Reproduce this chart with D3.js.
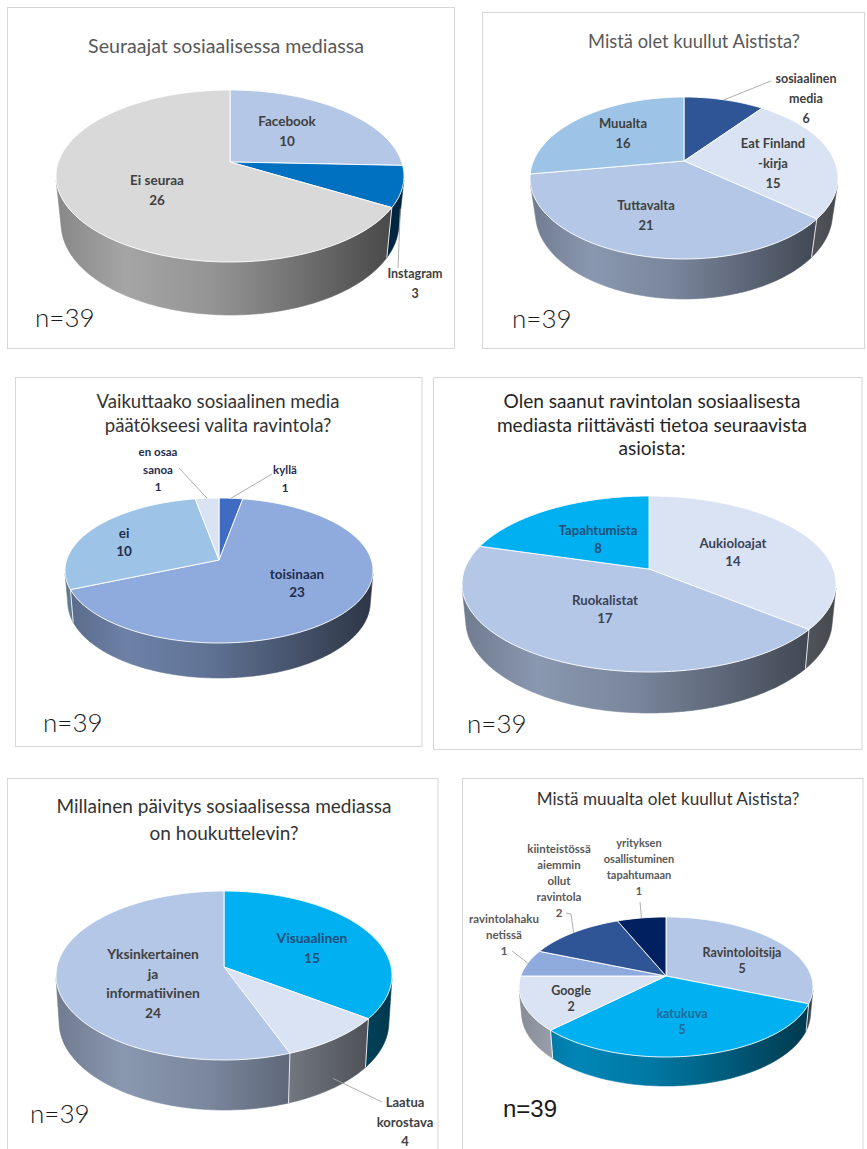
<!DOCTYPE html>
<html><head><meta charset="utf-8">
<script src="https://cdn.jsdelivr.net/npm/d3@7"></script>
<style>body{margin:0;background:#fff}svg{display:block}</style>
</head><body>
<svg id="c" width="867" height="1149"></svg>
<script>
// ---------- DATA ----------
const p1Title = ["Seuraajat sosiaalisessa mediassa"];
const p1Cats = ["Facebook", "Instagram", "Ei seuraa"];
const p1Vals = [10, 3, 26];

const p2Title = ["Mistä olet kuullut Aistista?"];
const p2Cats = ["sosiaalinen\nmedia", "Eat Finland\n-kirja", "Tuttavalta", "Muualta"];
const p2Vals = [6, 15, 21, 16];

const p3Title = ["Vaikuttaako sosiaalinen media", "päätökseesi valita ravintola?"];
const p3Cats = ["kyllä", "toisinaan", "ei", "en osaa\nsanoa"];
const p3Vals = [1, 23, 10, 1];

const p4Title = ["Olen saanut ravintolan sosiaalisesta", "mediasta riittävästi tietoa seuraavista", "asioista:"];
const p4Cats = ["Aukioloajat", "Ruokalistat", "Tapahtumista"];
const p4Vals = [14, 17, 8];

const p5Title = ["Millainen päivitys sosiaalisessa mediassa", "on houkuttelevin?"];
const p5Cats = ["Visuaalinen", "Laatua\nkorostava", "Yksinkertainen\nja\ninformatiivinen"];
const p5Vals = [15, 4, 24];

const p6Title = ["Mistä muualta olet kuullut Aistista?"];
const p6Cats = ["Ravintoloitsija", "katukuva", "Google", "ravintolahaku\nnetissä", "kiinteistössä\naiemmin\nollut\nravintola", "yrityksen\nosallistuminen\ntapahtumaan"];
const p6Vals = [5, 5, 2, 1, 2, 1];

const nText = "n=39";

// ---------- STYLE / LAYOUT ----------
const p1Colors = ["#b4c7e7", "#0070c0", "#d9d9d9"];
const p2Colors = ["#2f5597", "#dae3f3", "#b4c7e7", "#9dc3e6"];
const p3Colors = ["#3f6cc2", "#8faadc", "#9dc3e6", "#dae3f3"];
const p4Colors = ["#dae3f3", "#b4c7e7", "#00b0f0"];
const p5Colors = ["#00b0f0", "#dae3f3", "#b4c7e7"];
const p6Colors = ["#b4c7e7", "#00b0f0", "#dae3f3", "#8faadc", "#2f5597", "#002060"];

const panels = [
  { title: p1Title, cats: p1Cats, vals: p1Vals, colors: p1Colors,
    box: [7.5, 7.5, 447, 341], tCx: 226, tY: [53], tW: 276, tColor: "#595959",
    pie: { cx: 230, cy: 162, W: 174, back: 72, front: 100, depth: 53 },
    lab: [[287, 126], [415, 278], [157, 185]], lh: 20, fs: [13.5, 12.5, 13.5],
    labColors: ["#404040", "#404040", "#404040"],
    leaders: { 1: { pts: [[398, 268]], df: 0.45 } },
    n: [35, 327] },
  { title: p2Title, cats: p2Cats, vals: p2Vals, colors: p2Colors,
    box: [482.5, 12.5, 382, 336], tCx: 694, tY: [48], tW: 212, tColor: "#595959",
    pie: { cx: 684, cy: 161, W: 154, back: 64, front: 98, depth: 40 },
    lab: [[806, 83], [773, 148], [646, 210], [623, 128]], lh: 20, fs: [12.5, 13, 13, 13],
    labColors: ["#404040", "#404040", "#404040", "#404040"],
    leaders: { 0: { pts: [[771, 81]], df: 0 } },
    n: [512, 328] },
  { title: p3Title, cats: p3Cats, vals: p3Vals, colors: p3Colors,
    box: [15.5, 377.5, 406.5, 369], tCx: 218, tY: [408, 432], tW: 243, tColor: "#333333",
    pie: { cx: 219, cy: 560, W: 154, back: 62, front: 83, depth: 35 },
    lab: [[285, 474], [297, 579], [124, 538], [158, 456]], lh: 17.5, fs: [11.5, 13.5, 13.5, 11.5],
    labColors: ["#1f2d50", "#1f2d50", "#1f2d50", "#1f2d50"],
    leaders: { 0: { pts: [[272, 474]], df: 0 }, 3: { pts: [[179, 468]], df: 0 } },
    n: [43, 732] },
  { title: p4Title, cats: p4Cats, vals: p4Vals, colors: p4Colors,
    box: [433.5, 377.5, 428.5, 372], tCx: 652, tY: [408, 432, 455], tW: 297, tColor: "#262626",
    pie: { cx: 649, cy: 569, W: 187, back: 73, front: 103, depth: 41 },
    lab: [[733, 548], [605, 605], [598, 535]], lh: 18, fs: [13.2, 13.2, 13.2],
    labColors: ["#3a4258", "#3a4258", "#1f4e79"],
    leaders: {},
    n: [467, 733] },
  { title: p5Title, cats: p5Cats, vals: p5Vals, colors: p5Colors,
    box: [7.5, 778.5, 430.5, 380], tCx: 224, tY: [813, 840], tW: 335, tColor: "#333333",
    pie: { cx: 224, cy: 967, W: 168, back: 76, front: 93, depth: 50 },
    lab: [[312, 943], [405, 1107], [153, 959]], lh: 19.5, fs: [13.8, 13, 13.8],
    labColors: ["#1f4e79", "#404040", "#404040"],
    leaders: { 1: { pts: [[382, 1102]], df: 0.8 } },
    n: [30, 1123] },
  { title: p6Title, cats: p6Cats, vals: p6Vals, colors: p6Colors,
    box: [462.5, 778.5, 400.5, 380], tCx: 668, tY: [805], tW: 263, tColor: "#333333",
    pie: { cx: 666, cy: 976, W: 147, back: 59, front: 81, depth: 29 },
    lab: [[742, 957], [682, 1018], [571, 995], [504, 923], [559, 853], [639, 847]], lh: 16,
    fs: [12.5, 12.5, 12.5, 11.5, 11.5, 11],
    labColors: ["#404040", "#1f6a9a", "#404040", "#595959", "#595959", "#595959"],
    leaders: { 3: { pts: [[512, 951]], df: 0 }, 4: { pts: [[566, 913], [571, 914]], df: 0 }, 5: { pts: [[640, 902]], df: 0 } },
    n: [503, 1117], nArial: true }
];

const sideStops = [[0, 0.62], [0.2, 0.76], [0.45, 0.68], [0.7, 0.52], [0.9, 0.38], [1, 0.32]];

// ---------- RENDER ----------
const svg = d3.select("#c");
const defs = svg.append("defs");
let gid = 0;
const line = d3.line();

function makeProj(p) {
  const k = (p.front - p.back) / (p.front + p.back);
  const A = p.back * (1 + k);
  const sR = p.W * Math.sqrt(1 - k * k);
  const sn = Math.min(0.99, A / sR), cs = Math.sqrt(1 - sn * sn);
  const D = cs / k, f = sR * D;
  const Y = p.front + p.depth;
  const h = (Y * (D - cs) - f * sn) / (f * cs - Y * sn);
  const proj = (a, yw, r = 1) => {
    const X = r * Math.sin(a), Z = r * Math.cos(a);
    const d = D + Z * cs - yw * sn;
    return [p.cx + f * X / d, p.cy - f * (Z * sn + yw * cs) / d];
  };
  const v0 = Math.acos(Math.max(-1, -k / (cs * cs)));
  return { proj, h, v0, v1: 2 * Math.PI - v0 };
}

function arcPts(proj, a0, a1, yw) {
  const n = Math.max(2, Math.ceil(Math.abs(a1 - a0) / (Math.PI / 180)) + 1);
  const pts = [];
  for (let i = 0; i < n; i++) pts.push(proj(a0 + (a1 - a0) * i / (n - 1), yw));
  return pts;
}

function drawPanel(P) {
  const g = svg.append("g");
  g.append("rect").attr("x", P.box[0]).attr("y", P.box[1]).attr("width", P.box[2]).attr("height", P.box[3])
    .attr("fill", "#fff").attr("stroke", "#d6d6d6").attr("stroke-width", 1);

  // title, font size fitted to the measured width of the first line
  const tt = g.append("g").attr("font-family", "Lato, 'Open Sans', sans-serif").attr("fill", P.tColor);
  const lines = P.title.map((t, i) => tt.append("text").attr("x", P.tCx).attr("y", P.tY[i])
    .attr("text-anchor", "middle").attr("font-size", 18).text(t));
  const w0 = lines[0].node().getComputedTextLength();
  const fsT = 18 * P.tW / w0;
  lines.forEach(l => l.attr("font-size", fsT.toFixed(2)));

  // pie
  const { proj, h, v0, v1 } = makeProj(P.pie);
  const arcs = d3.pie().sort(null).value(d => d)(P.vals);
  const x1 = P.pie.cx - P.pie.W, x2 = P.pie.cx + P.pie.W;

  const wallG = g.append("g");
  arcs.forEach((a, i) => {
    const s = Math.max(a.startAngle, v0), e = Math.min(a.endAngle, v1);
    if (s >= e) return;
    const id = "gr" + (gid++);
    const lg = defs.append("linearGradient").attr("id", id).attr("gradientUnits", "userSpaceOnUse")
      .attr("x1", x1).attr("x2", x2).attr("y1", 0).attr("y2", 0);
    const base = P.colors[i];
    sideStops.forEach(([o, fct]) => lg.append("stop").attr("offset", o)
      .attr("stop-color", d3.interpolateRgb("#000", base)(fct)));
    const pts = arcPts(proj, s, e, 0).concat(arcPts(proj, e, s, -h));
    wallG.append("path").attr("d", line(pts) + "Z").attr("fill", `url(#${id})`)
      .attr("stroke", `url(#${id})`).attr("stroke-width", 0.6);
  });
  arcs.forEach(a => {
    const ang = a.startAngle;
    if (ang > v0 && ang < v1) {
      const p0 = proj(ang, 0), p1 = proj(ang, -h);
      wallG.append("line").attr("x1", p0[0]).attr("y1", p0[1]).attr("x2", p1[0]).attr("y2", p1[1])
        .attr("stroke", "#ffffff").attr("stroke-opacity", 0.85).attr("stroke-width", 1);
    }
  });

  const topG = g.append("g");
  arcs.forEach((a, i) => {
    const pts = [proj(0, 0, 0)].concat(arcPts(proj, a.startAngle, a.endAngle, 0));
    topG.append("path").attr("d", line(pts) + "Z").attr("fill", P.colors[i])
      .attr("stroke", "#ffffff").attr("stroke-opacity", 0.9).attr("stroke-width", 1).attr("stroke-linejoin", "round");
  });

  const ldG = g.append("g");
  Object.keys(P.leaders).forEach(key => {
    const L = P.leaders[key];
    const a = arcs[+key];
    const mid = (a.startAngle + a.endAngle) / 2;
    const rim = proj(mid, -h * L.df);
    ldG.append("path").attr("d", line(L.pts.concat([rim]))).attr("fill", "none")
      .attr("stroke", "#a6a6a6").attr("stroke-width", 0.9);
  });

  const lbG = g.append("g").attr("font-family", "Lato, 'Open Sans', sans-serif").attr("font-weight", "bold")
    .attr("text-anchor", "middle");
  arcs.forEach((a, i) => {
    const [lx, ly] = P.lab[i];
    const rows = P.cats[i].split("\n").concat([String(P.vals[i])]);
    const t = lbG.append("text").attr("fill", P.labColors[i]).attr("font-size", P.fs[i]);
    rows.forEach((r, j) => t.append("tspan").attr("x", lx).attr("y", ly + j * P.lh).text(r));
  });

  const nt = g.append("text").attr("x", P.n[0]).attr("y", P.n[1]).attr("fill", "#1a1a1a").text(nText);
  if (P.nArial) {
    nt.attr("font-family", "'Liberation Sans', Arial, sans-serif").attr("font-size", 24);
  } else {
    nt.attr("font-family", "Lato, sans-serif").attr("font-weight", 300).attr("font-size", 26);
  }
}

panels.forEach(drawPanel);
</script>
</body></html>
